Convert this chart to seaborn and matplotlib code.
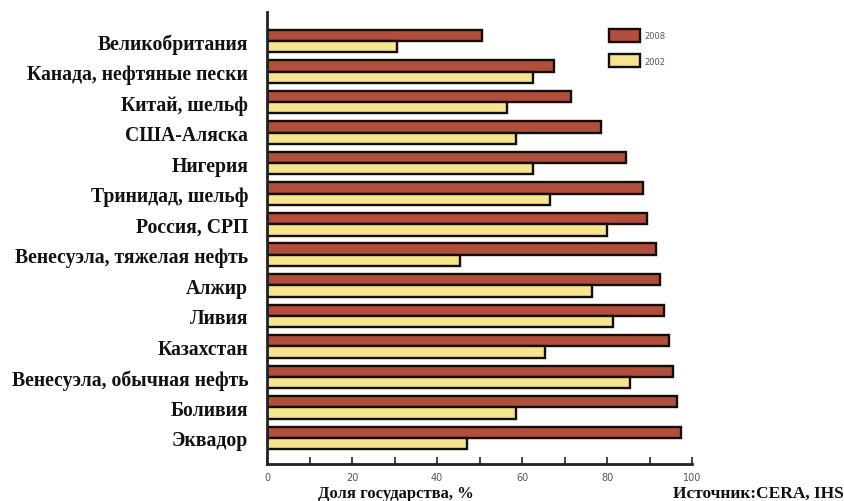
import matplotlib
matplotlib.use("Agg")
import matplotlib.pyplot as plt
import seaborn as sns
import pandas as pd
from matplotlib.ticker import MultipleLocator

categories = ["Великобритания", "Канада, нефтяные пески", "Китай, шельф", "США-Аляска",
              "Нигерия", "Тринидад, шельф", "Россия, СРП", "Венесуэла, тяжелая нефть",
              "Алжир", "Ливия", "Казахстан", "Венесуэла, обычная нефть", "Боливия", "Эквадор"]
values_2008 = [50.5, 67.5, 71.5, 78.5, 84.5, 88.5, 89.5, 91.5, 92.5, 93.5, 94.5, 95.5, 96.5, 97.5]
values_2002 = [30.5, 62.5, 56.5, 58.5, 62.5, 66.5, 80, 45.5, 76.5, 81.5, 65.5, 85.5, 58.5, 47]
series = ["2008", "2002"]
colors = ["#b24f3c", "#f6e58c"]

df = pd.DataFrame({
    "cat": categories * 2,
    "val": values_2008 + values_2002,
    "year": [series[0]] * len(categories) + [series[1]] * len(categories),
})

sns.set_style("white")
fig = plt.figure(figsize=(8.45, 5.02), dpi=100)
ax = fig.add_axes([0.316, 0.074, 0.503, 0.900])

sns.barplot(data=df, y="cat", x="val", hue="year", hue_order=series, order=categories,
            palette=colors, saturation=1, orient="h", width=0.74, edgecolor="#140c06",
            linewidth=1.7, ax=ax, legend=True)

ax.set_xlim(0, 100)
ax.set_ylim(13.85, -0.95)
ax.xaxis.set_major_locator(MultipleLocator(20))
ax.xaxis.set_minor_locator(MultipleLocator(10))
ax.tick_params(axis="x", which="both", direction="in", bottom=True, length=5, width=1.2,
               colors="#222222", labelsize=7, labelcolor="#555555", pad=6)
ax.tick_params(axis="y", which="both", left=False, length=0, pad=13.5)
for lab in ax.get_yticklabels():
    lab.set_fontfamily("Liberation Serif")
    lab.set_fontweight("bold")
    lab.set_fontsize(14.2)
    lab.set_color("#111111")
for lab in ax.get_xticklabels():
    lab.set_fontfamily("DejaVu Sans")
ax.set_xlabel("")
ax.set_ylabel("")
for s in ["top", "right"]:
    ax.spines[s].set_visible(False)
ax.spines["left"].set_linewidth(2)
ax.spines["left"].set_color("#222222")
ax.spines["bottom"].set_linewidth(2)
ax.spines["bottom"].set_color("#222222")

leg = ax.legend(loc="upper left", bbox_to_anchor=(0.712, 0.955), bbox_transform=fig.transFigure,
                frameon=False, fontsize=6, handlelength=3.7, handleheight=2.0,
                labelspacing=1.5, handletextpad=0.5)
for t in leg.get_texts():
    t.set_color("#555555")

fig.text(0.468, 0.008, "Доля государства, %", ha="center", va="baseline",
         fontfamily="Liberation Serif", fontweight="bold", fontsize=12, color="#111111")
fig.text(0.998, 0.008, "Источник:CERA, IHS", ha="right", va="baseline",
         fontfamily="Liberation Serif", fontweight="bold", fontsize=12.5, color="#111111")

fig.savefig("out.png", dpi=100)
